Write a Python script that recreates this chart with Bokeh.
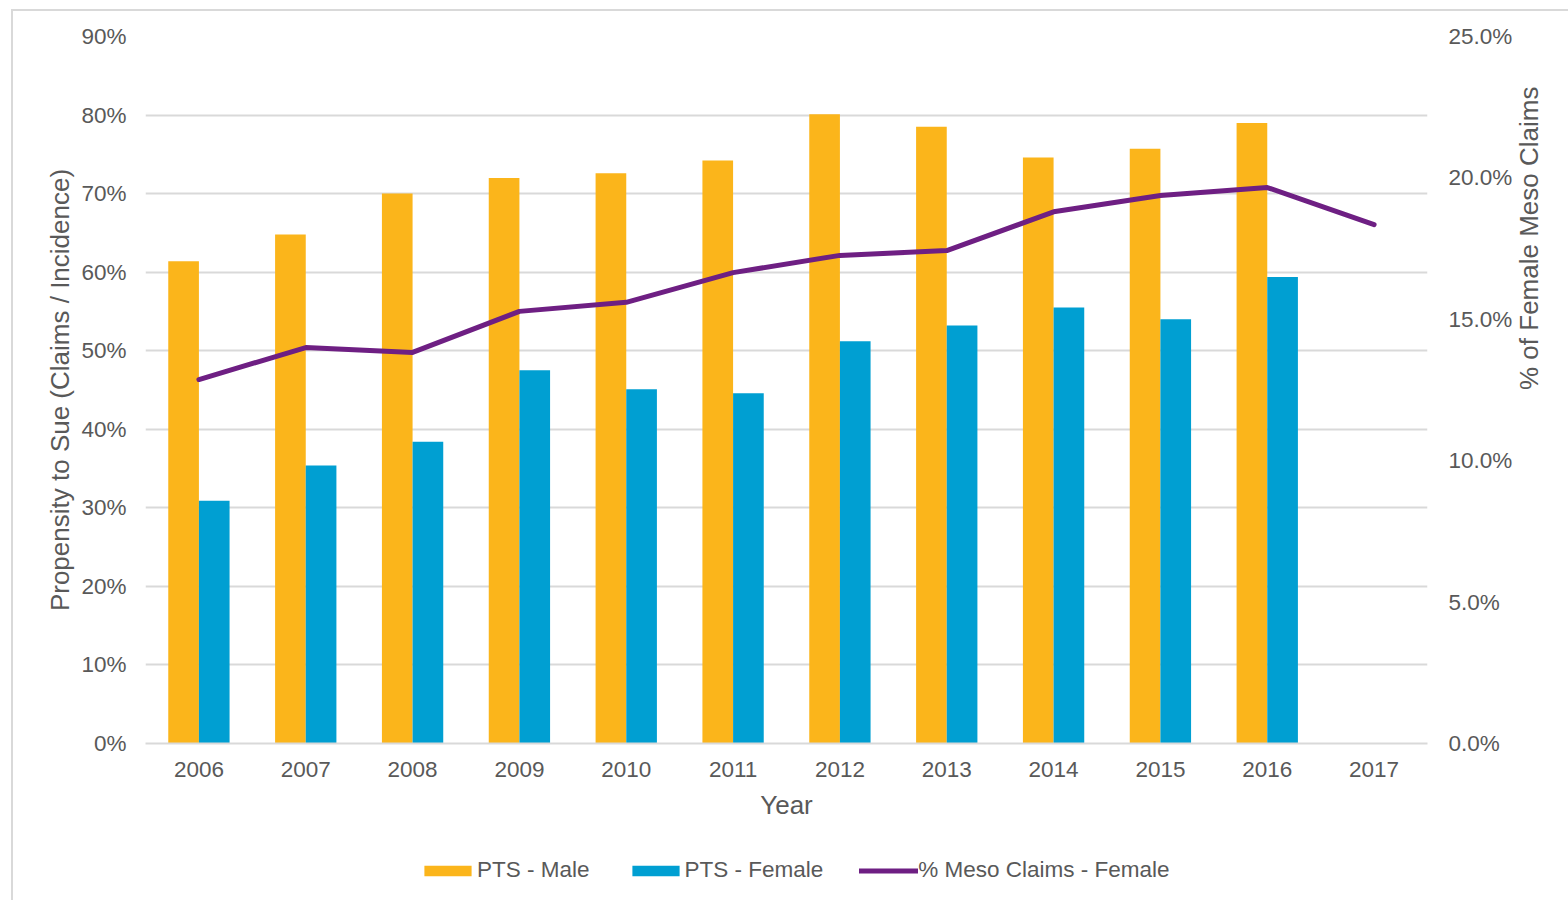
import math
from bokeh.plotting import figure
from bokeh.layouts import column
from bokeh.models import (FactorRange, Range1d, LinearAxis, FixedTicker, NumeralTickFormatter,
                          Legend, LegendItem)
from bokeh.transform import dodge
from bokeh.embed import file_html
from bokeh.resources import INLINE

# Data
years = ["2006", "2007", "2008", "2009", "2010", "2011", "2012", "2013", "2014", "2015", "2016", "2017"]
pts_male = [0.614, 0.648, 0.700, 0.720, 0.726, 0.742, 0.801, 0.785, 0.746, 0.757, 0.790, None]
pts_female = [0.309, 0.354, 0.384, 0.475, 0.451, 0.446, 0.512, 0.532, 0.555, 0.540, 0.594, None]
meso_female = [0.1287, 0.1400, 0.1383, 0.1528, 0.1560, 0.1665, 0.1726, 0.1743, 0.1880, 0.1938, 0.1966, 0.1835]
left_ticks = [0.0, 0.1, 0.2, 0.3, 0.4, 0.5, 0.6, 0.7, 0.8, 0.9]
right_ticks = [0.0, 0.05, 0.10, 0.15, 0.20, 0.25]
series_names = ["PTS - Male", "PTS - Female", "% Meso Claims - Female"]

ORANGE = "#FBB51B"
BLUE = "#009FD2"
PURPLE = "#6E1F83"
GRID = "#D9D9D9"
TEXT = "#595959"
FONT = "Liberation Sans"

W = 1555
H_MAIN = 825
H_LEG = 64

p = figure(width=W, height=H_MAIN, x_range=FactorRange(*years, range_padding=0),
           y_range=Range1d(0, 0.9), output_backend="svg", toolbar_location=None,
           min_border_left=132, min_border_right=141, min_border_top=25, min_border_bottom=93)
p.extra_y_ranges = {"right": Range1d(0, 0.25)}
p.outline_line_color = None
p.background_fill_color = "white"
p.border_fill_color = "white"

male_x = [y for y, v in zip(years, pts_male) if v is not None]
male_v = [v for v in pts_male if v is not None]
fem_x = [y for y, v in zip(years, pts_female) if v is not None]
fem_v = [v for v in pts_female if v is not None]

p.vbar(x=dodge("x", -0.1435, range=p.x_range), top="top", width=0.287,
       source=dict(x=male_x, top=male_v), fill_color=ORANGE, line_color=None)
p.vbar(x=dodge("x", 0.1435, range=p.x_range), top="top", width=0.287,
       source=dict(x=fem_x, top=fem_v), fill_color=BLUE, line_color=None)
p.line(x=years, y=meso_female, y_range_name="right", line_color=PURPLE,
       line_width=5, line_cap="round", line_join="round")

# Left axis
ya = p.yaxis[0]
ya.ticker = FixedTicker(ticks=left_ticks)
ya.formatter = NumeralTickFormatter(format="0%")
ya.axis_label = "Propensity to Sue (Claims / Incidence)"

# Right axis
ra = LinearAxis(y_range_name="right", ticker=FixedTicker(ticks=right_ticks),
                formatter=NumeralTickFormatter(format="0.0%"),
                axis_label="% of Female Meso Claims")
p.add_layout(ra, "right")
ra.axis_label_orientation = math.pi / 2

xa = p.xaxis[0]
xa.axis_label = "Year"

for ax in (ya, ra, xa):
    ax.major_tick_line_color = None
    ax.minor_tick_line_color = None
    ax.major_label_text_font = FONT
    ax.major_label_text_font_size = "22.5px"
    ax.major_label_text_color = TEXT
    ax.axis_label_text_font = FONT
    ax.axis_label_text_font_size = "26px"
    ax.axis_label_text_font_style = "normal"
    ax.axis_label_text_color = TEXT

ya.axis_line_color = None
ra.axis_line_color = None
xa.axis_line_color = GRID
xa.axis_line_width = 2
ya.major_label_standoff = 13
ra.major_label_standoff = 15
xa.major_label_standoff = 12
xa.axis_label_standoff = 10
ya.axis_label_standoff = 3
ra.axis_label_standoff = 14

p.xgrid.grid_line_color = None
p.ygrid.grid_line_color = GRID
p.ygrid.grid_line_width = 2

# Legend strip below the chart; swatch glyphs sit outside the visible range
lg = figure(width=W, height=H_LEG, output_backend="svg", toolbar_location=None,
            x_range=Range1d(0, 1), y_range=Range1d(0, 1),
            min_border_left=0, min_border_right=0, min_border_top=0, min_border_bottom=0)
lg.axis.visible = False
lg.grid.visible = False
lg.outline_line_color = None
lg.border_fill_color = "white"
sw_male = lg.vbar(x=[-5], top=[-5], width=0.1, fill_color=ORANGE, line_color=None)
sw_fem = lg.vbar(x=[-5], top=[-5], width=0.1, fill_color=BLUE, line_color=None)
sw_line = lg.line(x=[-5, -4], y=[-5, -5], line_color=PURPLE, line_width=5, line_cap="round")

legend = Legend(items=[LegendItem(label=series_names[0], renderers=[sw_male]),
                       LegendItem(label=series_names[1], renderers=[sw_fem]),
                       LegendItem(label=series_names[2], renderers=[sw_line])],
                orientation="horizontal", location=(273, 17),
                label_text_font=FONT, label_text_font_size="22.5px", label_text_color=TEXT,
                glyph_width=59, glyph_height=13, label_standoff=0, spacing=36,
                border_line_color=None, background_fill_alpha=0, margin=0, padding=6)
lg.add_layout(legend, "center")

# The chart sits inside a thin grey border, offset from the page corner
layout = column(p, lg, spacing=0, margin=(9, 0, 0, 11),
                styles={"border-left": "2px solid #D9D9D9", "border-top": "2px solid #D9D9D9",
                        "background-color": "white"})

open("out.html", "w").write(file_html(layout, INLINE))
